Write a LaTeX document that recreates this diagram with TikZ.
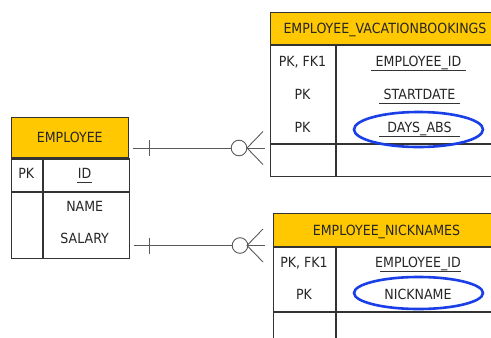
\documentclass[tikz,border=0pt]{standalone}
\usepackage{fontspec}
\setmainfont{DejaVu Sans}[FakeStretch=0.9]
\usetikzlibrary{shapes.geometric}

\definecolor{headgold}{HTML}{FFC800}
\definecolor{tabline}{HTML}{333333}
\definecolor{relgray}{HTML}{5A5A5A}
\definecolor{markblue}{HTML}{1A3FE6}

\tikzset{
	thead/.style={draw=tabline, fill=headgold, line width=1.1pt, anchor=north west, inner sep=0pt},
	tcell/.style={draw=tabline, fill=white, line width=1.1pt, anchor=north west, inner sep=0pt},
	lbl/.style={text=black!85, inner sep=0pt, text height=10.2pt, text depth=0pt,
		font=\fontsize{14}{16}\selectfont},
	uline/.style={draw=tabline, line width=0.9pt},
	rel/.style={draw=relgray, line width=0.9pt},
	hilite/.style={draw=markblue, line width=2.6pt, ellipse, inner sep=0pt}
}

\begin{document}
\begin{tikzpicture}[x=1pt, y=-1pt]
	\useasboundingbox (0,0) rectangle (491,338);
	\clip (0,0) rectangle (491,338);
	
	% EMPLOYEE
	\node[thead, minimum width=117pt, minimum height=40pt] (emp) at (10.7,117.3) {};
	\node[tcell, minimum width=31pt, minimum height=32.7pt] (empk1) at (emp.south west) {};
	\node[tcell, minimum width=86pt, minimum height=32.7pt] (empa1) at (empk1.north east) {};
	\node[tcell, minimum width=31pt, minimum height=65.3pt] (empk2) at (empk1.south west) {};
	\node[tcell, minimum width=86pt, minimum height=65.3pt] (empa2) at (empk2.north east) {};
	\node[lbl] (empname) at (emp.center) {EMPLOYEE};
	\node[lbl] (emppk) at (26.2,173.6) {PK};
	\node[lbl, minimum width=15pt] (empid) at (84.7,173.6) {ID};
	\node[lbl] (empnm) at (84.7,206) {NAME};
	\node[lbl] (empsal) at (84.7,238) {SALARY};
	\draw[uline] ([yshift=-3.5pt]empid.base west) -- ([yshift=-3.5pt]empid.base east);
	
	% EMPLOYEE_VACATIONBOOKINGS
	\node[thead, minimum width=230pt, minimum height=31.7pt] (vac) at (270,12.3) {};
	\node[tcell, minimum width=65pt, minimum height=98pt] (vack1) at (vac.south west) {};
	\node[tcell, minimum width=165pt, minimum height=98pt] (vaca1) at (vack1.north east) {};
	\node[tcell, minimum width=65pt, minimum height=32pt] (vack2) at (vack1.south west) {};
	\node[tcell, minimum width=165pt, minimum height=32pt] (vaca2) at (vack2.north east) {};
	\node[lbl] (vacname) at (385,28) {EMPLOYEE\_VACATIONBOOKINGS};
	\node[lbl] (vacpk1) at (302.5,61) {PK, FK1};
	\node[lbl] (vacpk2) at (302.5,94) {PK};
	\node[lbl] (vacpk3) at (302.5,127) {PK};
	\node[lbl, minimum width=95pt] (vaceid) at (418.5,61) {EMPLOYEE\_ID};
	\node[lbl, minimum width=80pt] (vacstart) at (419.5,94) {STARTDATE};
	\node[lbl, minimum width=80pt] (vacdays) at (419.5,127) {DAYS\_ABS};
	\draw[uline] ([yshift=-4.5pt]vaceid.base west) -- ([yshift=-4.5pt]vaceid.base east);
	\draw[uline] ([yshift=-4.5pt]vacstart.base west) -- ([yshift=-4.5pt]vacstart.base east);
	\draw[uline] ([yshift=-4.5pt]vacdays.base west) -- ([yshift=-4.5pt]vacdays.base east);
	\node[hilite, minimum width=129pt, minimum height=35pt] (vacmark) at (418.5,129.5) {};
	
	% EMPLOYEE_NICKNAMES
	\node[thead, minimum width=227pt, minimum height=33pt] (nick) at (273,213) {};
	\node[tcell, minimum width=62pt, minimum height=64pt] (nickk1) at (nick.south west) {};
	\node[tcell, minimum width=165pt, minimum height=64pt] (nicka1) at (nickk1.north east) {};
	\node[tcell, minimum width=62pt, minimum height=40pt] (nickk2) at (nickk1.south west) {};
	\node[tcell, minimum width=165pt, minimum height=40pt] (nicka2) at (nickk2.north east) {};
	\node[lbl] (nickname) at (386.5,230) {EMPLOYEE\_NICKNAMES};
	\node[lbl] (nickpk1) at (304,262) {PK, FK1};
	\node[lbl] (nickpk2) at (304,294) {PK};
	\node[lbl] (nickeid) at (418,262) {EMPLOYEE\_ID};
	\node[lbl] (nicknm) at (418,294) {NICKNAME};
	\draw[uline] ([yshift=-4.5pt,xshift=5pt]nickeid.base west) -- ([yshift=-4.5pt]nickeid.base east);
	\node[hilite, minimum width=129pt, minimum height=32pt] (nickmark) at (418.5,293) {};
	
	% relationships
	\coordinate (r1a) at (emp.east |- 0,148);
	\coordinate (r1b) at (vac.west |- 0,148);
	\coordinate (r2a) at (emp.east |- 0,245.5);
	\coordinate (r2b) at (nick.west |- 0,245.5);
	
	\draw[rel, shorten <=4pt, shorten >=5pt] (r1a) -- (r1b);
	\draw[rel] ([xshift=21pt]r1a) ++(0,-8) -- ++(0,16);
	\draw[rel, fill=white] ([xshift=-31pt]r1b) circle (7.8);
	\draw[rel] ([xshift=-7pt]r1b) ++(0,-16.5) -- ++(-16,16.5) -- ++(16,16.5);
	
	\draw[rel, shorten <=5pt, shorten >=8pt] (r2a) -- (r2b);
	\draw[rel] ([xshift=21pt]r2a) ++(0,-8) -- ++(0,16);
	\draw[rel, fill=white] ([xshift=-33pt]r2b) circle (7.8);
	\draw[rel] ([xshift=-10pt]r2b) ++(0,-16.5) -- ++(-16,16.5) -- ++(16,16.5);
	
\end{tikzpicture}
\end{document}
